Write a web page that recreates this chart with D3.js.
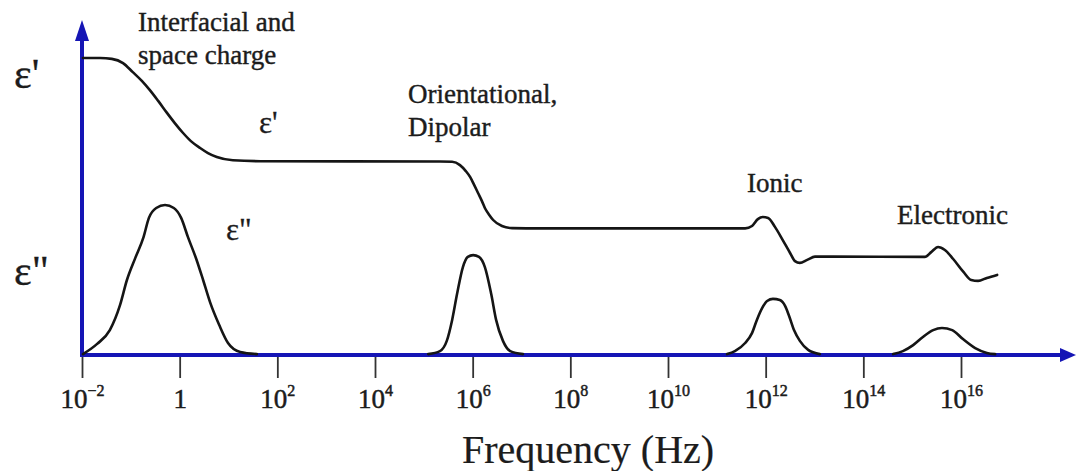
<!DOCTYPE html>
<html>
<head>
<meta charset="utf-8">
<script src="https://cdn.jsdelivr.net/npm/d3@7"></script>
<style>
  html, body { margin: 0; padding: 0; background: #fff; }
  svg { display: block; }
  .serif { font-family: "Liberation Serif", "Times New Roman", Times, serif !important; }
</style>
</head>
<body>
<svg id="chart" width="1076" height="471"></svg>
<script>
// Dielectric permittivity vs. frequency: real part (one continuous curve)
// and loss part (one peak per polarisation mechanism).
// Points are [log10(frequency / Hz), relative value].
const epsReal = [
  [-1.98, 9.90], [-1.63, 9.90], [-1.39, 9.87], [-1.16, 9.73], [-0.96, 9.43],
  [-0.77, 9.13], [-0.61, 8.83], [-0.44, 8.47], [-0.26, 8.07], [-0.10, 7.73],
  [0.07, 7.40], [0.23, 7.13], [0.42, 6.90], [0.58, 6.73], [0.76, 6.60],
  [1.09, 6.49], [1.65, 6.46], [5.33, 6.45], [5.58, 6.44], [5.74, 6.33],
  [5.86, 6.13], [5.95, 5.93], [6.03, 5.67], [6.11, 5.40], [6.19, 5.13],
  [6.25, 4.90], [6.34, 4.67], [6.42, 4.50], [6.60, 4.30], [6.81, 4.23],
  [7.38, 4.22], [11.58, 4.22], [11.72, 4.30], [11.84, 4.53], [11.94, 4.60],
  [12.05, 4.57], [12.19, 4.27], [12.35, 3.83], [12.50, 3.40], [12.60, 3.13],
  [12.70, 3.07], [12.85, 3.17], [13.01, 3.28], [13.38, 3.28], [15.26, 3.27],
  [15.39, 3.43], [15.53, 3.60], [15.67, 3.50], [15.84, 3.20], [16.05, 2.77],
  [16.21, 2.50], [16.35, 2.47], [16.53, 2.57], [16.74, 2.67]
];

const lossInterfacial = [
  [-1.98, 0.03], [-1.69, 0.37], [-1.43, 0.83], [-1.22, 1.67], [-1.08, 2.50],
  [-0.91, 3.23], [-0.74, 3.93], [-0.63, 4.57], [-0.48, 4.90], [-0.30, 5.00],
  [-0.12, 4.90], [0.03, 4.57], [0.17, 3.93], [0.34, 3.20], [0.48, 2.50],
  [0.62, 1.77], [0.81, 1.00], [0.99, 0.40], [1.24, 0.10], [1.58, 0.03]
];

const lossDipolar = [
  [5.09, 0.03], [5.33, 0.13], [5.47, 0.47], [5.58, 1.17], [5.68, 2.03],
  [5.80, 2.93], [5.90, 3.27], [6.01, 3.33], [6.13, 3.27], [6.25, 2.93],
  [6.38, 2.03], [6.48, 1.17], [6.62, 0.47], [6.77, 0.13], [7.03, 0.03]
];

const lossIonic = [
  [11.21, 0.03], [11.37, 0.13], [11.58, 0.40], [11.72, 0.73], [11.82, 1.17],
  [11.93, 1.57], [12.03, 1.80], [12.15, 1.87], [12.29, 1.83], [12.40, 1.63],
  [12.48, 1.30], [12.58, 0.83], [12.70, 0.47], [12.87, 0.17], [13.11, 0.03]
];

const lossElectronic = [
  [14.61, 0.03], [14.81, 0.13], [15.02, 0.33], [15.22, 0.60], [15.43, 0.83],
  [15.61, 0.90], [15.82, 0.83], [16.04, 0.53], [16.29, 0.23], [16.53, 0.07],
  [16.70, 0.03]
];

const tickExponents = [-2, 0, 2, 4, 6, 8, 10, 12, 14, 16];

const mechanismLabels = [
  { text: "Interfacial and", x: 138, y: 31 },
  { text: "space charge", x: 138, y: 64 },
  { text: "Orientational,", x: 408, y: 103 },
  { text: "Dipolar", x: 408, y: 136 },
  { text: "Ionic", x: 747, y: 192 },
  { text: "Electronic", x: 897, y: 224 }
];

const axisTitle = "Frequency (Hz)";

// ---- layout ----
const originX = 82, originY = 355;
const axisColor = "#1515b5";
const ink = "#1c1c1c";

const svg = d3.select("#chart");

const x = d3.scaleLog().domain([1e-2, 1e16]).range([originX, 961]);
const y = d3.scaleLinear().domain([0, 10]).range([originY, 55]);

const line = d3.line()
  .x(d => x(Math.pow(10, d[0])))
  .y(d => y(d[1]))
  .curve(d3.curveMonotoneX);

// text element in the serif face, slightly emboldened
function addText(parent, size, weight) {
  return parent.append("text")
    .attr("class", "serif")
    .attr("font-size", size)
    .attr("fill", ink)
    .attr("stroke", ink)
    .attr("stroke-width", weight || 0.4);
}

// tick marks and labels below the axis
const xAxis = d3.axisBottom(x)
  .tickValues(tickExponents.map(e => Math.pow(10, e)))
  .tickSize(22)
  .tickFormat(() => "");

const gx = svg.append("g")
  .attr("transform", `translate(0,${originY + 1})`)
  .call(xAxis)
  .attr("font-family", null);
gx.select(".domain").remove();
gx.selectAll(".tick line").attr("stroke", "#333").attr("stroke-width", 1.8);
gx.selectAll(".tick text").remove();

gx.selectAll(".tick").each(function (d, i) {
  const e = tickExponents[i];
  const t = addText(d3.select(this), 27, 0.5)
    .attr("y", 52)
    .attr("text-anchor", "middle");
  if (e === 0) {
    t.append("tspan").text("1");
  } else {
    t.append("tspan").text("10");
    t.append("tspan")
      .attr("font-size", 16)
      .attr("dy", -12)
      .text(e < 0 ? "\u2212" + Math.abs(e) : String(e));
  }
});

// blue axes with arrowheads
svg.append("line")
  .attr("x1", originX).attr("y1", originY)
  .attr("x2", 1062).attr("y2", originY)
  .attr("stroke", axisColor).attr("stroke-width", 4);
svg.append("path")
  .attr("d", `M1076,${originY} L1060,${originY - 7} L1060,${originY + 7} Z`)
  .attr("fill", axisColor);

svg.append("line")
  .attr("x1", originX).attr("y1", originY + 2)
  .attr("x2", originX).attr("y2", 38)
  .attr("stroke", axisColor).attr("stroke-width", 4);
svg.append("path")
  .attr("d", `M${originX},20 L${originX - 7},41 L${originX + 7},41 Z`)
  .attr("fill", axisColor);

// curves
const curves = [epsReal, lossInterfacial, lossDipolar, lossIonic, lossElectronic];
svg.append("g").selectAll("path")
  .data(curves)
  .join("path")
  .attr("d", line)
  .attr("fill", "none")
  .attr("stroke", "#151515")
  .attr("stroke-width", 2.6)
  .attr("stroke-linejoin", "round")
  .attr("stroke-linecap", "round");

// mechanism annotations
mechanismLabels.forEach(l => {
  addText(svg, 27).attr("x", l.x).attr("y", l.y).text(l.text);
});

// permittivity symbols
addText(svg, 42, 0.3).attr("x", 14).attr("y", 88).text("\u03b5'");
addText(svg, 42, 0.3).attr("x", 14).attr("y", 285).text("\u03b5\"");
addText(svg, 31, 0.3).attr("x", 259).attr("y", 133).text("\u03b5'");
addText(svg, 31, 0.3).attr("x", 226).attr("y", 240).text("\u03b5\"");

// axis title
addText(svg, 40, 0.2).attr("x", 462).attr("y", 463).text(axisTitle);
</script>
</body>
</html>
